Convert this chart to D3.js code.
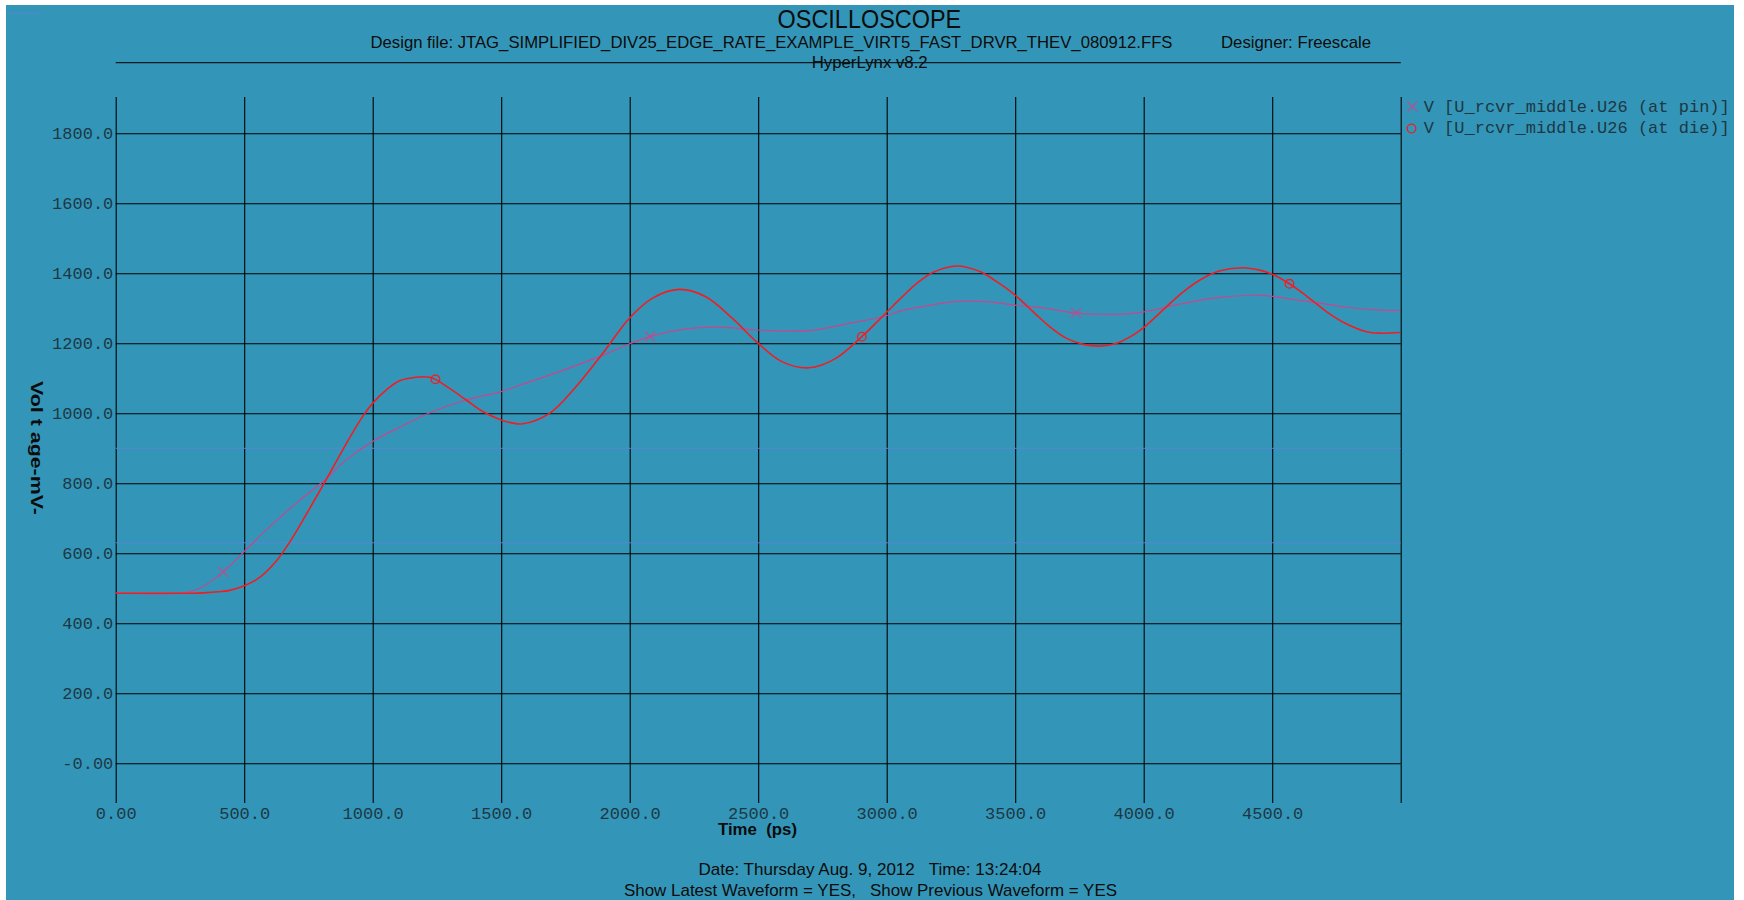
<!DOCTYPE html>
<html>
<head>
<meta charset="utf-8">
<script src="https://cdn.jsdelivr.net/npm/d3@7/dist/d3.min.js"></script>
<style>
  html, body { margin: 0; padding: 0; background: #ffffff; }
  svg { display: block; }
</style>
</head>
<body>
<svg id="scope" width="1744" height="900"></svg>
<script>
// ---- Waveform data: time (ps) and voltage (mV) ----
const pinTime = [0, 262, 327, 418, 500, 586, 716, 807, 897, 998, 1105, 1234, 1364, 1500, 1571, 1688, 1882, 1998, 2079, 2206, 2348, 2497, 2698, 2853, 2996, 3051, 3155, 3259, 3389, 3499, 3622, 3737, 3830, 3934, 4002, 4154, 4297, 4452, 4634, 4790, 4919, 4997];
const pinVolt = [486, 487, 500, 547, 605, 667, 752, 805, 867, 919, 960, 1005, 1038, 1062, 1080, 1109, 1162, 1198, 1219, 1240, 1246, 1238, 1236, 1257, 1278, 1292, 1307, 1319, 1319, 1309, 1300, 1286, 1283, 1284, 1290, 1314, 1331, 1337, 1320, 1303, 1295, 1294];

const dieTime = [0, 300, 340, 400, 444, 500, 560, 625, 677, 742, 807, 858, 910, 962, 998, 1053, 1105, 1169, 1221, 1244, 1299, 1364, 1428, 1500, 1545, 1584, 1688, 1791, 1895, 1998, 2089, 2193, 2296, 2400, 2497, 2594, 2698, 2802, 2903, 2996, 3051, 3117, 3181, 3272, 3363, 3428, 3499, 3570, 3635, 3700, 3765, 3830, 3895, 3960, 4002, 4089, 4154, 4219, 4297, 4388, 4452, 4500, 4567, 4634, 4712, 4790, 4868, 4919, 4997];
const dieVolt = [486, 486, 487, 490, 494, 507, 531, 578, 632, 712, 795, 862, 930, 992, 1027, 1067, 1093, 1103, 1103, 1097, 1071, 1038, 1005, 981, 972, 970, 1000, 1076, 1171, 1271, 1329, 1354, 1333, 1271, 1202, 1147, 1130, 1157, 1219, 1286, 1326, 1371, 1403, 1421, 1405, 1376, 1338, 1290, 1247, 1214, 1197, 1192, 1200, 1224, 1246, 1305, 1347, 1381, 1407, 1416, 1409, 1397, 1370, 1335, 1290, 1255, 1233, 1229, 1231];

// Marker positions along each trace
const pinMarkT = [418, 2079, 3737];
const pinMarkV = [547, 1219, 1287];
const dieMarkT = [1244, 2903, 4567];
const dieMarkV = [1097, 1219, 1370];

// Threshold reference levels (mV)
const thresholds = [630, 900];

// Axis ticks
const xTicks = [0, 500, 1000, 1500, 2000, 2500, 3000, 3500, 4000, 4500, 5000];
const xTickLabels = ["0.00", "500.0", "1000.0", "1500.0", "2000.0", "2500.0", "3000.0", "3500.0", "4000.0", "4500.0", ""];
const yTicks = [0, 200, 400, 600, 800, 1000, 1200, 1400, 1600, 1800];
const yTickLabels = ["-0.00", "200.0", "400.0", "600.0", "800.0", "1000.0", "1200.0", "1400.0", "1600.0", "1800.0"];

const legendLabels = ["V [U_rcvr_middle.U26 (at pin)]", "V [U_rcvr_middle.U26 (at die)]"];

// ---- Layout ----
const BG = "#3396b8";
const PIN = "#c8468c";
const DIE = "#f21c22";
const INK = "#1d3844";
const MONO = "'Liberation Mono', 'Courier New', monospace";
const SANS = "'Liberation Sans', Arial, sans-serif";

const plotTop = 97, plotBottom = 803;

const svg = d3.select("#scope");

svg.append("rect").attr("x", 6).attr("y", 5).attr("width", 1728).attr("height", 895).attr("fill", BG);
svg.append("line").attr("x1", 8).attr("x2", 40).attr("y1", 13.3).attr("y2", 13.3)
  .attr("stroke", "#5b84d0").attr("stroke-width", 1);

const x = d3.scaleLinear().domain([0, 5000]).range([115.7, 1400.7]);
const y = d3.scaleLinear().domain([0, 1800]).range([763.3, 133.3]);
const plotW = x(5000) - x(0);

// ---- Header ----
svg.append("text").attr("x", 777.6).attr("y", 28.3)
  .attr("textLength", 183.6).attr("lengthAdjust", "spacingAndGlyphs")
  .style("font-family", SANS).style("font-size", "25.5px").attr("fill", "#0c0c0c")
  .text("OSCILLOSCOPE");
svg.append("text").attr("x", 370.5).attr("y", 48.3)
  .attr("textLength", 802).attr("lengthAdjust", "spacingAndGlyphs")
  .style("font-family", SANS).style("font-size", "17px").attr("fill", "#0c0c0c")
  .text("Design file: JTAG_SIMPLIFIED_DIV25_EDGE_RATE_EXAMPLE_VIRT5_FAST_DRVR_THEV_080912.FFS");
svg.append("text").attr("x", 1221).attr("y", 48.3)
  .attr("textLength", 150).attr("lengthAdjust", "spacingAndGlyphs")
  .style("font-family", SANS).style("font-size", "17px").attr("fill", "#0c0c0c")
  .text("Designer: Freescale");
svg.append("line").attr("x1", x(0)).attr("x2", x(5000)).attr("y1", 62.7).attr("y2", 62.7)
  .attr("stroke", "#0a1a20").attr("stroke-width", 1.2);
svg.append("text").attr("x", 811.7).attr("y", 68.3)
  .attr("textLength", 116).attr("lengthAdjust", "spacingAndGlyphs")
  .style("font-family", SANS).style("font-size", "17px").attr("fill", "#0c0c0c")
  .text("HyperLynx v8.2");

// ---- Grid / axes ----
const yAxis = d3.axisLeft(y)
  .tickValues(yTicks)
  .tickFormat((d, i) => yTickLabels[i])
  .tickSizeInner(-plotW).tickSizeOuter(0).tickPadding(2.4);
const gy = svg.append("g").attr("transform", `translate(${x(0)},0)`).call(yAxis);
gy.select(".domain").remove();
gy.selectAll(".tick line").attr("stroke", "#000").attr("stroke-width", 1.1);
gy.selectAll(".tick text")
  .style("font-family", MONO).style("font-size", "17px").attr("fill", INK);

const xAxis = d3.axisBottom(x)
  .tickValues(xTicks)
  .tickFormat((d, i) => xTickLabels[i])
  .tickSizeInner(-(plotBottom - plotTop)).tickSizeOuter(0);
const gx = svg.append("g").attr("transform", `translate(0,${plotBottom})`).call(xAxis);
gx.select(".domain").remove();
gx.selectAll(".tick line").attr("stroke", "#000").attr("stroke-width", 1.1);
gx.selectAll(".tick text")
  .attr("dy", null).attr("y", 16)
  .style("font-family", MONO).style("font-size", "17px").attr("fill", INK);

// Threshold lines
svg.append("g").selectAll("line").data(thresholds).join("line")
  .attr("x1", x(0)).attr("x2", x(5000))
  .attr("y1", d => y(d)).attr("y2", d => y(d))
  .attr("stroke", "#5b84d0").attr("stroke-width", 1);

// ---- Axis titles ----
svg.append("text")
  .attr("transform", `translate(31,381) rotate(90)`)
  .attr("textLength", 134).attr("lengthAdjust", "spacingAndGlyphs")
  .style("font-family", SANS).style("font-size", "17px").style("font-weight", "bold")
  .attr("fill", "#0c0c0c")
  .text("Vol t age-mV-");

svg.append("text").attr("x", 718).attr("y", 834.5)
  .attr("textLength", 79).attr("lengthAdjust", "spacingAndGlyphs")
  .style("font-family", SANS).style("font-size", "16px").style("font-weight", "bold")
  .attr("fill", "#0c0c0c").style("white-space", "pre")
  .text("Time  (ps)");

// ---- Footer ----
svg.append("text").attr("x", 698.5).attr("y", 875)
  .attr("textLength", 343).attr("lengthAdjust", "spacingAndGlyphs")
  .style("font-family", SANS).style("font-size", "17px").attr("fill", "#0c0c0c")
  .style("white-space", "pre")
  .text("Date: Thursday Aug. 9, 2012   Time: 13:24:04");
svg.append("text").attr("x", 624).attr("y", 896)
  .attr("textLength", 493).attr("lengthAdjust", "spacingAndGlyphs")
  .style("font-family", SANS).style("font-size", "17px").attr("fill", "#0c0c0c")
  .style("white-space", "pre")
  .text("Show Latest Waveform = YES,   Show Previous Waveform = YES");

// ---- Traces ----
const line = d3.line().x(d => x(d[0])).y(d => y(d[1])).curve(d3.curveCatmullRom.alpha(0.5));
const pinData = pinTime.map((t, i) => [t, pinVolt[i]]);
const dieData = dieTime.map((t, i) => [t, dieVolt[i]]);

svg.append("path").datum(pinData).attr("d", line)
  .attr("fill", "none").attr("stroke", PIN).attr("stroke-width", 1.2);
svg.append("path").datum(dieData).attr("d", line)
  .attr("fill", "none").attr("stroke", DIE).attr("stroke-width", 1.6);

// Markers
function cross(g, cx, cy, s, color) {
  g.append("path")
    .attr("d", `M${cx - s},${cy - s}L${cx + s},${cy + s}M${cx - s},${cy + s}L${cx + s},${cy - s}`)
    .attr("stroke", color).attr("stroke-width", 1.1).attr("fill", "none");
}
const mk = svg.append("g");
pinMarkT.forEach((t, i) => cross(mk, x(t), y(pinMarkV[i]), 5, PIN));
mk.selectAll("circle").data(dieMarkT).join("circle")
  .attr("cx", d => x(d)).attr("cy", (d, i) => y(dieMarkV[i])).attr("r", 4.3)
  .attr("fill", "none").attr("stroke", DIE).attr("stroke-width", 1.3);

// ---- Legend ----
const lg = svg.append("g");
cross(lg, 1412.3, 106.7, 5, PIN);
lg.append("circle").attr("cx", 1411.5).attr("cy", 128.5).attr("r", 4.3)
  .attr("fill", "none").attr("stroke", DIE).attr("stroke-width", 1.3);
lg.selectAll("text").data(legendLabels).join("text")
  .attr("x", 1423.7).attr("y", (d, i) => 112.3 + i * 21)
  .style("font-family", MONO).style("font-size", "17px").attr("fill", INK)
  .text(d => d);
</script>
</body>
</html>
